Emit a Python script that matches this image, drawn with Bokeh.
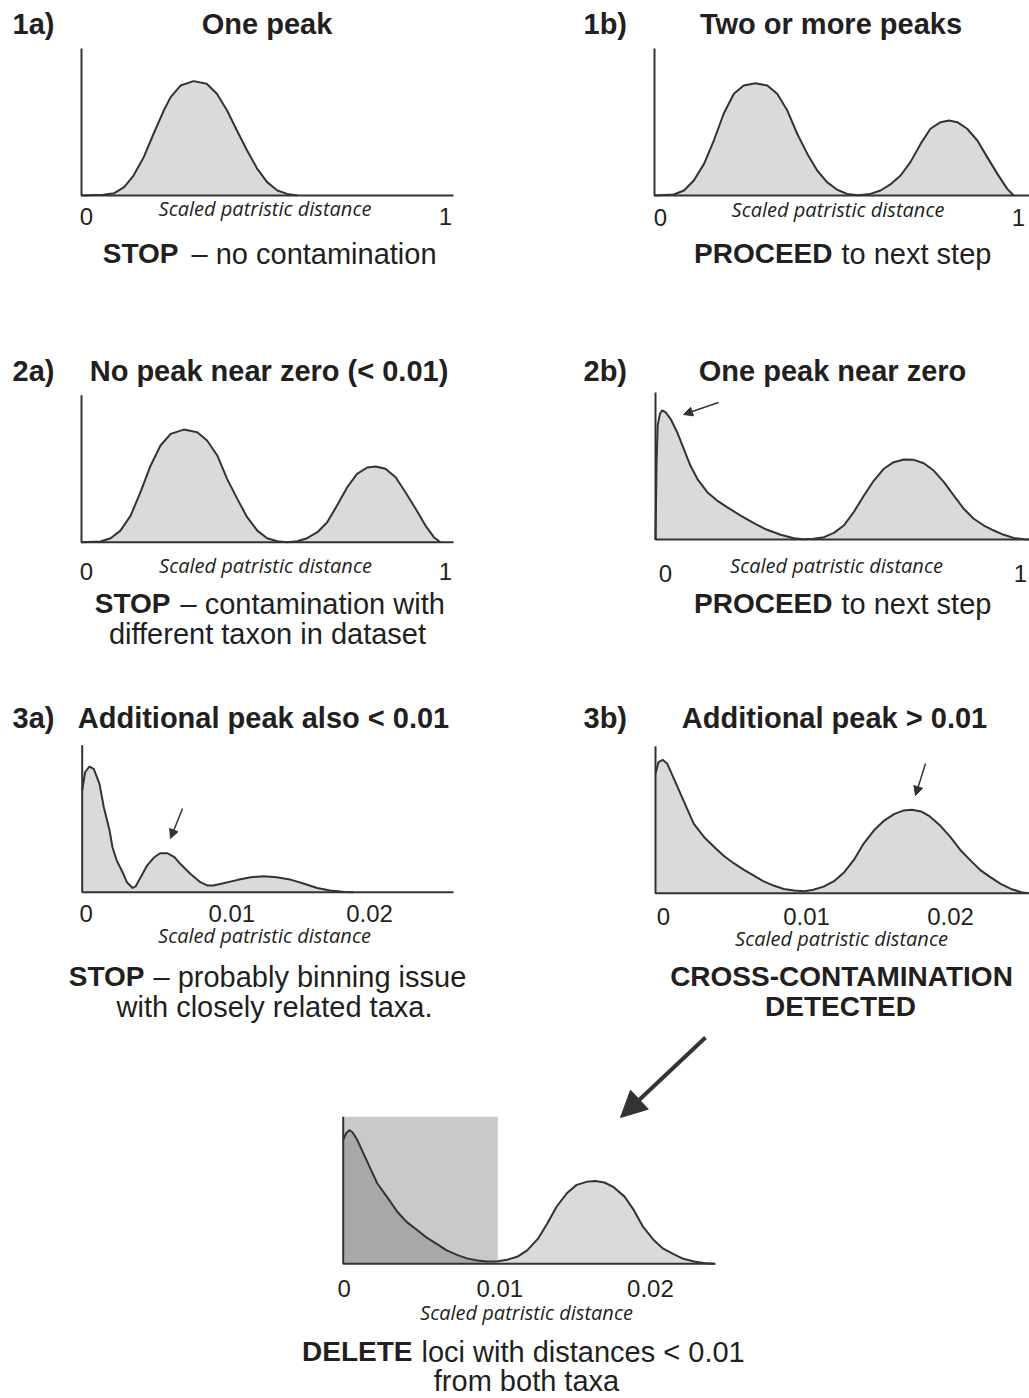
import numpy as np
from bokeh.plotting import figure
from bokeh.models import Range1d, Arrow, NormalHead
from bokeh.core.properties import value
from bokeh.embed import file_html
from bokeh.resources import INLINE

# ---------------- data ----------------
# 1a) one peak  (x: scaled patristic distance 0..1, y: relative density)
d1a_x = [0.0, 0.06, 0.09, 0.117, 0.143, 0.171, 0.198, 0.226, 0.245, 0.272, 0.308,
         0.344, 0.372, 0.4, 0.427, 0.455, 0.483, 0.51, 0.538, 0.565, 0.593]
d1a_y = [0, 0.005, 0.016, 0.057, 0.136, 0.261, 0.42, 0.578, 0.669, 0.748, 0.778,
         0.76, 0.692, 0.578, 0.442, 0.306, 0.181, 0.091, 0.034, 0.011, 0]

# 1b) two or more peaks
d1b_x = [0.0, 0.053, 0.081, 0.108, 0.136, 0.163, 0.19, 0.218, 0.245, 0.277, 0.31, 0.337,
         0.365, 0.392, 0.42, 0.447, 0.474, 0.502, 0.529, 0.561, 0.593, 0.621, 0.648, 0.676,
         0.703, 0.731, 0.758, 0.786, 0.809, 0.832, 0.859, 0.887, 0.914, 0.942, 0.969, 0.987]
d1b_y = [0, 0.007, 0.034, 0.102, 0.215, 0.374, 0.556, 0.692, 0.748, 0.764, 0.748, 0.692,
         0.578, 0.42, 0.283, 0.17, 0.091, 0.039, 0.011, 0.002, 0.011, 0.034, 0.075, 0.136,
         0.227, 0.351, 0.454, 0.499, 0.51, 0.499, 0.454, 0.374, 0.261, 0.147, 0.045, 0]

# 2a) no peak near zero
d2a_x = [0.0, 0.052, 0.08, 0.107, 0.135, 0.162, 0.19, 0.217, 0.245, 0.281, 0.318, 0.345,
         0.373, 0.4, 0.428, 0.455, 0.483, 0.51, 0.538, 0.565, 0.593, 0.62, 0.648, 0.675,
         0.702, 0.73, 0.757, 0.785, 0.808, 0.835, 0.863, 0.89, 0.918, 0.945, 0.968, 0.986]
d2a_y = [0, 0.005, 0.027, 0.079, 0.181, 0.34, 0.522, 0.658, 0.737, 0.766, 0.748, 0.692,
         0.59, 0.431, 0.295, 0.17, 0.079, 0.027, 0.007, 0, 0.007, 0.027, 0.068, 0.136,
         0.249, 0.374, 0.465, 0.508, 0.515, 0.499, 0.442, 0.34, 0.227, 0.113, 0.034, 0]

# 2b) one peak near zero
d2b_x = [0.0, 0.003, 0.006, 0.012, 0.018, 0.027, 0.041, 0.059, 0.077, 0.095, 0.114, 0.141,
         0.168, 0.195, 0.232, 0.268, 0.304, 0.341, 0.377, 0.404, 0.431, 0.459, 0.486, 0.513,
         0.54, 0.568, 0.595, 0.622, 0.649, 0.677, 0.704, 0.731, 0.758, 0.786, 0.813, 0.84,
         0.867, 0.895, 0.922, 0.949, 0.976, 1.004, 1.019]
d2b_y = [0, 0.526, 0.776, 0.855, 0.878, 0.866, 0.821, 0.73, 0.617, 0.503, 0.413, 0.322,
         0.265, 0.22, 0.163, 0.111, 0.066, 0.032, 0.009, 0.002, 0.005, 0.016, 0.045, 0.095,
         0.186, 0.299, 0.401, 0.481, 0.526, 0.544, 0.542, 0.519, 0.469, 0.39, 0.299, 0.209,
         0.141, 0.095, 0.061, 0.032, 0.011, 0.002, 0]

# 3a) additional peak also < 0.01
d3a_x = [0.0, 0.0002, 0.0005, 0.0008, 0.0012, 0.0015, 0.0019, 0.0021, 0.0024, 0.0028, 0.0031,
         0.0035, 0.0037, 0.004, 0.0045, 0.005, 0.0054, 0.0059, 0.0064, 0.0068, 0.0075, 0.0082,
         0.0087, 0.0091, 0.0098, 0.0108, 0.0117, 0.0126, 0.0135, 0.0145, 0.0154, 0.0163,
         0.0172, 0.0182, 0.0188]
d3a_y = [0.692, 0.816, 0.855, 0.839, 0.737, 0.578, 0.42, 0.306, 0.215, 0.136, 0.068, 0.029,
         0.039, 0.091, 0.181, 0.238, 0.265, 0.265, 0.238, 0.193, 0.125, 0.068, 0.045, 0.045,
         0.061, 0.084, 0.102, 0.109, 0.102, 0.084, 0.057, 0.029, 0.011, 0.002, 0]

# 3b) additional peak > 0.01
d3b_x = [0.0, 0.0002, 0.0005, 0.0008, 0.0012, 0.0017, 0.0022, 0.0026, 0.0033, 0.004, 0.0046,
         0.0053, 0.006, 0.0067, 0.0073, 0.008, 0.0087, 0.0094, 0.0101, 0.0107, 0.0114, 0.0121,
         0.0128, 0.0135, 0.0141, 0.0148, 0.0155, 0.0162, 0.0168, 0.0174, 0.018, 0.0186,
         0.0193, 0.02, 0.0207, 0.0214, 0.022, 0.0227, 0.0234, 0.0241, 0.0248, 0.0253]
d3b_y = [0.812, 0.891, 0.907, 0.88, 0.789, 0.676, 0.562, 0.472, 0.381, 0.313, 0.256, 0.204,
         0.159, 0.118, 0.082, 0.052, 0.029, 0.018, 0.014, 0.023, 0.045, 0.082, 0.143, 0.234,
         0.336, 0.426, 0.494, 0.54, 0.562, 0.567, 0.556, 0.522, 0.46, 0.381, 0.29, 0.218,
         0.159, 0.109, 0.063, 0.029, 0.007, 0]

# 4) delete loci < 0.01
d4_x = [0.0, 0.0002, 0.0004, 0.0006, 0.0009, 0.0013, 0.0018, 0.0022, 0.0029, 0.0035, 0.0041,
        0.0048, 0.0054, 0.0061, 0.0067, 0.0074, 0.008, 0.0087, 0.0093, 0.01, 0.0106, 0.0113,
        0.0119, 0.0126, 0.0132, 0.0138, 0.0145, 0.0151, 0.0158, 0.0163, 0.0169, 0.0175,
        0.0182, 0.0188, 0.0194, 0.0201, 0.0207, 0.0214, 0.022, 0.0227, 0.0233, 0.024]
d4_y = [0.845, 0.89, 0.909, 0.895, 0.845, 0.753, 0.639, 0.548, 0.445, 0.354, 0.285, 0.228,
        0.178, 0.132, 0.091, 0.059, 0.037, 0.023, 0.016, 0.018, 0.027, 0.05, 0.091, 0.171,
        0.274, 0.388, 0.484, 0.537, 0.559, 0.564, 0.553, 0.521, 0.457, 0.365, 0.251, 0.16,
        0.103, 0.064, 0.034, 0.016, 0.005, 0]
CUTOFF = 0.01

ticks_unit = [0, 1]
labels_unit = ["0", "1"]
ticks_small = [0, 0.01, 0.02]
labels_small = ["0", "0.01", "0.02"]
axis_title = "Scaled patristic distance"

# ---------------- layout / style ----------------
SANS = value("Liberation Sans")
ITAL = value("Open Sans")
INK = "#231f20"
LINE = "#333333"
FILL = "#d9dadc"
RECT = "#c8c9cb"
DARK = "#a7a8aa"

W, H = 1029, 1398

p = figure(width=W, height=H, output_backend="svg", toolbar_location=None,
           x_range=Range1d(0, W), y_range=Range1d(H, 0),
           x_axis_location=None, y_axis_location=None, min_border=0)
p.outline_line_color = None
p.xgrid.visible = False
p.ygrid.visible = False
p.background_fill_color = "white"
p.border_fill_color = "white"

# (text y values below are the visual centre of each line)
panels = [
    dict(name="p1a", ox=81, oy=195, sx=364, sy=147, xend=1.022, x=d1a_x, y=d1a_y,
         ticks=ticks_unit, labels=labels_unit, dx=[5, 0], ty=216, tcx=264.5, tcy=208),
    dict(name="p1b", ox=654, oy=195, sx=364, sy=147, xend=1.03, x=d1b_x, y=d1b_y,
         ticks=ticks_unit, labels=labels_unit, dx=[6, 0], ty=217, tcx=837.5, tcy=209),
    dict(name="p2a", ox=81, oy=541.7, sx=364, sy=147, xend=1.022, x=d2a_x, y=d2a_y,
         ticks=ticks_unit, labels=labels_unit, dx=[5, 0], ty=571, tcx=265, tcy=565),
    dict(name="p2b", ox=655, oy=539, sx=367, sy=147, xend=1.03, x=d2b_x, y=d2b_y,
         ticks=ticks_unit, labels=labels_unit, dx=[10, -2], ty=573, tcx=836, tcy=565),
    dict(name="p3a", ox=81.7, oy=891.7, sx=14415, sy=147, xend=0.02576, x=d3a_x, y=d3a_y,
         ticks=ticks_small, labels=labels_small, dx=[4, 5.5, -1], ty=913, tcx=264, tcy=935),
    dict(name="p3b", ox=655, oy=892.7, sx=14750, sy=147, xend=0.0256, x=d3b_x, y=d3b_y,
         ticks=ticks_small, labels=labels_small, dx=[8, 3.5, 0], ty=916, tcx=841, tcy=938),
    dict(name="p4", ox=342.7, oy=1263.3, sx=15460, sy=147, xend=0.02408, x=d4_x, y=d4_y,
         ticks=ticks_small, labels=labels_small, dx=[1, 2, -2], ty=1288, tcx=526, tcy=1312),
]

xr, yr = {}, {}
for pn in panels:
    xr[pn["name"]] = Range1d((0 - pn["ox"]) / pn["sx"], (W - pn["ox"]) / pn["sx"])
    yr[pn["name"]] = Range1d((pn["oy"] - H) / pn["sy"], (pn["oy"] - 0) / pn["sy"])
p.extra_x_ranges = xr
p.extra_y_ranges = yr

for pn in panels:
    n = pn["name"]
    xs = np.array(pn["x"], dtype=float)
    ys = np.array(pn["y"], dtype=float)
    if n == "p4":
        p.quad(left=0, right=CUTOFF, bottom=0, top=1.0, fill_color=RECT, line_color=None,
               x_range_name=n, y_range_name=n)
        ycut = float(np.interp(CUTOFF, xs, ys))
        m1 = xs < CUTOFF
        m2 = xs > CUTOFF
        xl = np.append(xs[m1], CUTOFF)
        yl = np.append(ys[m1], ycut)
        xr2 = np.insert(xs[m2], 0, CUTOFF)
        yr2 = np.insert(ys[m2], 0, ycut)
        p.varea(x=xl, y1=0, y2=yl, fill_color=DARK, x_range_name=n, y_range_name=n)
        p.varea(x=xr2, y1=0, y2=yr2, fill_color=FILL, x_range_name=n, y_range_name=n)
    else:
        p.varea(x=xs, y1=0, y2=ys, fill_color=FILL, x_range_name=n, y_range_name=n)
    p.line(xs, ys, line_color=LINE, line_width=2, line_join="round",
           x_range_name=n, y_range_name=n)
    # L-shaped axis
    p.line([0, 0, pn["xend"]], [1.0, 0, 0], line_color=LINE, line_width=2,
           x_range_name=n, y_range_name=n)
    # tick labels
    p.text(x=pn["ticks"], y=[pn["ty"]] * len(pn["ticks"]), text=pn["labels"],
           x_offset=pn["dx"], x_range_name=n, text_font=SANS, text_font_size="24px",
           text_align="center", text_baseline="alphabetic", text_color=INK)
    # axis title
    p.text(x=[pn["tcx"]], y=[pn["tcy"]], text=[axis_title], text_font=ITAL,
           text_font_style="italic", text_font_size="20px", text_align="center",
           text_baseline="alphabetic", text_color=INK)

# panel titles
titles = [
    ("1a)", 12, 23, "left"), ("One peak", 266.5, 23, "center"),
    ("1b)", 583, 23, "left"), ("Two or more peaks", 830.5, 23, "center"),
    ("2a)", 12, 370, "left"), ("No peak near zero (< 0.01)", 268.5, 370, "center"),
    ("2b)", 583, 370, "left"), ("One peak near zero", 832, 370, "center"),
    ("3a)", 12, 717, "left"), ("Additional peak also < 0.01", 263, 717, "center"),
    ("3b)", 583, 717, "left"), ("Additional peak > 0.01", 834, 717, "center"),
]
for t, x, y, a in titles:
    p.text(x=[x], y=[y], text=[t], text_font=SANS, text_font_style="bold",
           text_font_size="29px", text_align=a, text_baseline="alphabetic", text_color=INK)

captions_bold = [
    ("STOP", 178, 253, "right"), ("PROCEED", 832, 253, "right"),
    ("STOP", 170, 603, "right"), ("PROCEED", 832, 603, "right"),
    ("STOP", 144, 976, "right"), ("CROSS-CONTAMINATION", 841, 976, "center"),
    ("DETECTED", 840, 1006, "center"), ("DELETE", 412, 1351, "right"),
]
captions_reg = [
    ("\u2013 no contamination", 191, 253, "left"), ("to next step", 841, 253, "left"),
    ("\u2013 contamination with", 180, 603, "left"),
    ("different taxon in dataset", 267, 633, "center"),
    ("to next step", 841, 603, "left"),
    ("\u2013 probably binning issue", 153, 976, "left"),
    ("with closely related taxa.", 274, 1006, "center"),
    ("loci with distances < 0.01", 421, 1351, "left"),
    ("from both taxa", 526, 1380, "center"),
]
for t, x, y, a in captions_bold:
    p.text(x=[x], y=[y], text=[t], text_font=SANS, text_font_style="bold",
           text_font_size="28px", text_align=a, text_baseline="alphabetic", text_color=INK)
for t, x, y, a in captions_reg:
    p.text(x=[x], y=[y], text=[t], text_font=SANS, text_font_size="29px",
           text_align=a, text_baseline="alphabetic", text_color=INK)

# arrows
small = [(718, 402, 683, 414), (182, 808, 170, 838), (925, 763, 915, 795)]
for xs_, ys_, xe, ye in small:
    p.add_layout(Arrow(end=NormalHead(size=9, fill_color=LINE, line_color=LINE),
                       x_start=xs_, y_start=ys_, x_end=xe, y_end=ye,
                       line_color=LINE, line_width=1.5))
p.add_layout(Arrow(end=NormalHead(size=26, fill_color=LINE, line_color=LINE),
                   x_start=705, y_start=1037, x_end=620, y_end=1117,
                   line_color=LINE, line_width=4))

open("out.html", "w").write(file_html(p, INLINE))
